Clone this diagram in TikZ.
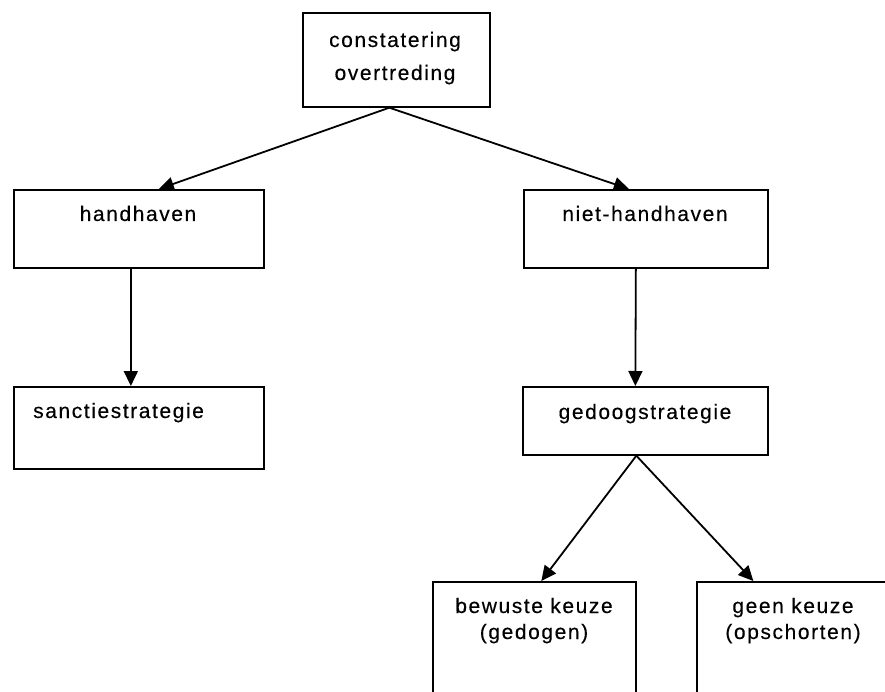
\documentclass[tikz,border=0pt]{standalone}
\usepackage{fontspec}
\setmainfont{Liberation Sans}[LetterSpace=7.5,FakeBold=0.3]
\usetikzlibrary{arrows.meta,calc}
\begin{document}
\begin{tikzpicture}[x=1pt,y=-1pt,
  box/.style={draw=black, line width=1.7pt, inner sep=0pt, anchor=north west},
  lbl/.style={inner sep=0pt, anchor=base, font=\fontsize{21}{25}\selectfont},
  arr/.style={line width=1.8pt, -{Triangle[length=15pt,width=14pt]}}]
\useasboundingbox (0,0) rectangle (885,692);
% boxes
\node[box, minimum width=187pt, minimum height=94pt] (con) at (302,12) {};
\node[box, minimum width=250pt, minimum height=78pt] (hh) at (13,189) {};
\node[box, minimum width=244pt, minimum height=78pt] (nh) at (523,189) {};
\node[box, minimum width=250pt, minimum height=82pt] (sa) at (13,386) {};
\node[box, minimum width=245pt, minimum height=68pt] (ge) at (522,386) {};
\node[box, minimum width=203pt, minimum height=140pt] (bk) at (432,581) {};
\node[box, minimum width=203pt, minimum height=140pt] (gk) at (696,581) {};
% texts
\node[lbl] (con1) at (395,47) {constatering};
\node[lbl] (con2) at (395,80) {overtreding};
\node[lbl] (hht) at (138,221) {handhaven};
\node[lbl] (nht) at (645,221) {niet-handhaven};
\node[lbl, anchor=base west] (sat) at (33,418) {sanctiestrategie};
\node[lbl] (get) at (645,419) {gedoogstrategie};
\node[lbl] (bk1) at (534,613) {bewuste keuze};
\node[lbl] (bk2) at (534,639) {(gedogen)};
\node[lbl] (gk1) at (793,613) {geen keuze};
\node[lbl] (gk2) at (793,639) {(opschorten)};
% connectors
\draw[arr] ($(con.south)+(-7,0)$) -- ($(hh.north)+(20,0)$);
\draw[arr] ($(con.south)+(-7,0)$) -- ($(nh.north)+(-17,0)$);
\draw[arr] ($(hh.south)+(-8,0)$) -- ($(sa.north)+(-8,0)$);
\draw[arr] ($(nh.south)+(-10,0)$) -- ($(ge.north)+(-10,0)$);
\draw[arr] ($(ge.south)+(-9,0)$) -- ($(bk.north)+(7,0)$);
\draw[arr] ($(ge.south)+(-9,0)$) -- ($(gk.north)+(-45,0)$);
\end{tikzpicture}
\end{document}
